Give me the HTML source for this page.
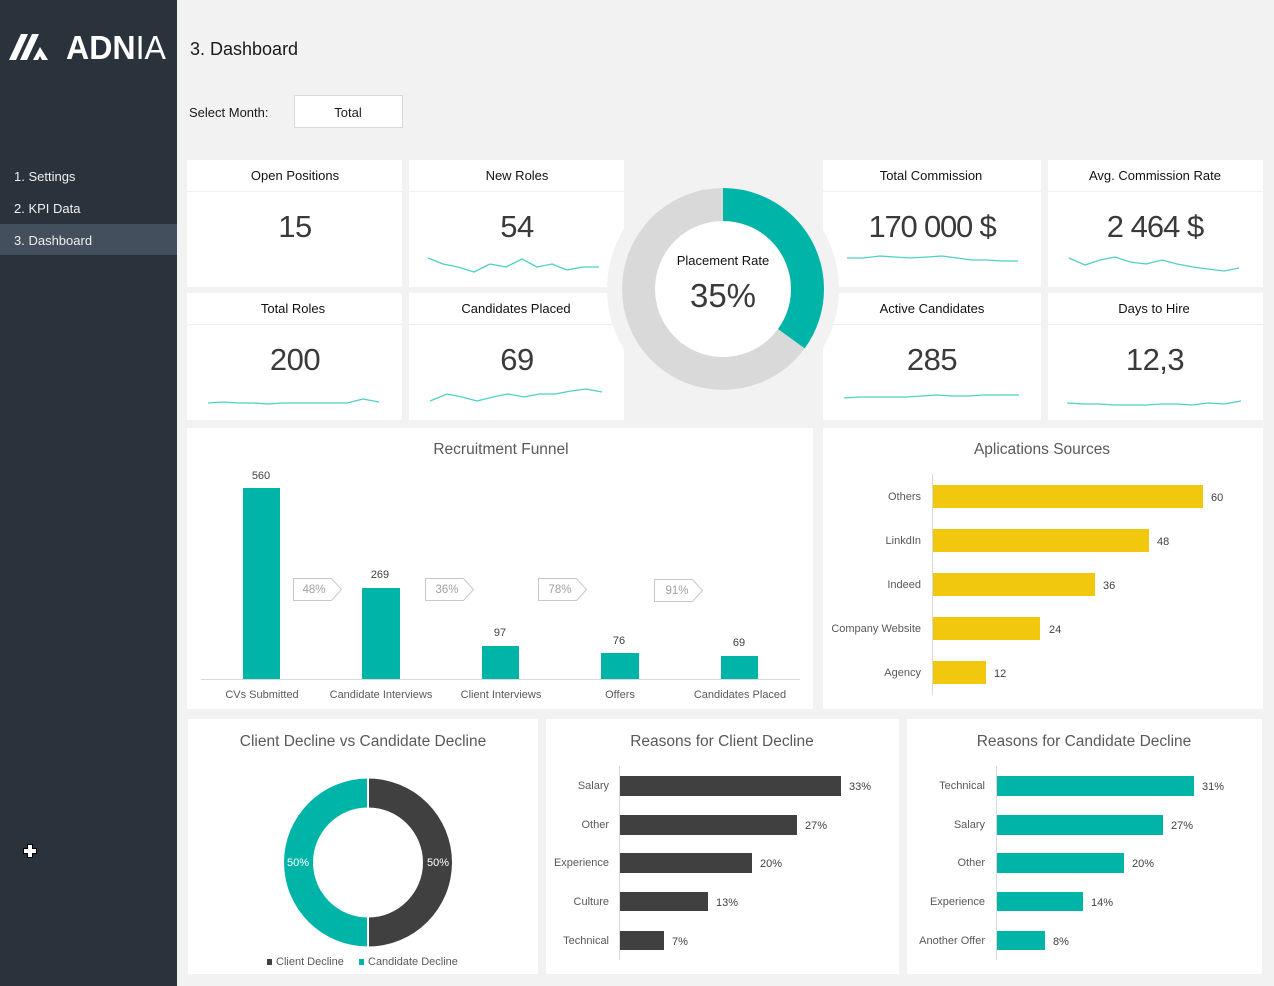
<!DOCTYPE html>
<html><head><meta charset="utf-8"><style>
html,body{margin:0;padding:0;background:#f2f2f2;}
svg{display:block;font-family:"Liberation Sans",Arial,sans-serif;}
</style></head><body>
<svg width="1274" height="986" viewBox="0 0 1274 986" xmlns="http://www.w3.org/2000/svg">
<rect x="0" y="0" width="1274" height="986" fill="#f2f2f2"/>
<!-- Sidebar -->
<rect x="0" y="0" width="177" height="986" fill="#2a333c"/>
<rect x="0" y="224" width="177" height="31" fill="#434f5c"/>
<g fill="#ffffff">
<polygon points="9,60 21,34 28,34 16,60"/>
<polygon points="20,60 32,34 39,34 27,60"/>
<polygon points="33,60 40,47 48,60 42,60 40,56 38,60"/>
</g>
<text x="66" y="59" font-size="33" fill="#ffffff" textLength="100" lengthAdjust="spacingAndGlyphs"><tspan font-weight="bold">ADN</tspan><tspan>IA</tspan></text>
<g font-size="13" fill="#f0f0f0">
<text x="14" y="181">1. Settings</text>
<text x="14" y="213">2. KPI Data</text>
<text x="14" y="245">3. Dashboard</text>
</g>
<g>
<path d="M27,844 h6 v4 h4 v6 h-4 v4 h-6 v-4 h-4 v-6 h4 z" fill="#000"/>
<path d="M28,845 h4 v4 h4 v4 h-4 v4 h-4 v-4 h-4 v-4 h4 z" fill="#fff"/>
</g>

<!-- Header -->
<text x="190" y="55" font-size="18" fill="#1a1a1a">3. Dashboard</text>
<text x="189" y="117" font-size="13" fill="#1a1a1a">Select Month:</text>
<rect x="294.5" y="95.5" width="108" height="32" fill="#ffffff" stroke="#d9d9d9"/>
<text x="348" y="117" font-size="13" fill="#1a1a1a" text-anchor="middle">Total</text>

<!-- KPI cards -->
<g fill="#ffffff">
<rect x="187" y="160" width="215" height="127"/>
<rect x="409" y="160" width="215" height="127"/>
<rect x="823" y="160" width="218" height="127"/>
<rect x="1048" y="160" width="215" height="127"/>
<rect x="187" y="293" width="215" height="127"/>
<rect x="409" y="293" width="215" height="127"/>
<rect x="823" y="293" width="218" height="127"/>
<rect x="1048" y="293" width="215" height="127"/>
</g>
<g stroke="#efefef" stroke-width="1">
<line x1="187" y1="191.5" x2="402" y2="191.5"/>
<line x1="409" y1="191.5" x2="624" y2="191.5"/>
<line x1="823" y1="191.5" x2="1041" y2="191.5"/>
<line x1="1048" y1="191.5" x2="1263" y2="191.5"/>
<line x1="187" y1="324.5" x2="402" y2="324.5"/>
<line x1="409" y1="324.5" x2="624" y2="324.5"/>
<line x1="823" y1="324.5" x2="1041" y2="324.5"/>
<line x1="1048" y1="324.5" x2="1263" y2="324.5"/>
</g>
<g font-size="13" fill="#111" text-anchor="middle">
<text x="295" y="180">Open Positions</text>
<text x="517" y="180">New Roles</text>
<text x="931" y="180">Total Commission</text>
<text x="1155" y="180">Avg. Commission Rate</text>
<text x="293" y="313">Total Roles</text>
<text x="516" y="313">Candidates Placed</text>
<text x="932" y="313">Active Candidates</text>
<text x="1154" y="313">Days to Hire</text>
</g>
<g font-size="31" fill="#3a3a3a" text-anchor="middle" letter-spacing="-0.5">
<text x="295" y="237">15</text>
<text x="517" y="237">54</text>
<text x="932" y="237" letter-spacing="-1.2">170 000 $</text>
<text x="1155" y="237" letter-spacing="-1">2 464 $</text>
<text x="295" y="370">200</text>
<text x="517" y="370">69</text>
<text x="932" y="370">285</text>
<text x="1155" y="370">12,3</text>
</g>
<g fill="none" stroke="#4fd1c7" stroke-width="1.3" stroke-linejoin="round">
<polyline points="428,258 443,264 458,267 474,272 490,264 506,267 522,259 537,267 552,264 567,270 583,267 599,267"/>
<polyline points="430,401 447,394 462,397 477,401 493,397 508,394 524,397 539,394 555,394 571,391 586,389 602,392"/>
<polyline points="208,403 223,402 238,403 253,403 268,404 283,403 298,403 313,403 328,403 347,403 363,399 379,402"/>
<polyline points="847,258 863,258 880,256 895,257 910,258 927,257 942,256 957,258 972,260 987,260 1002,261 1018,261"/>
<polyline points="1069,258 1085,265 1100,260 1115,257 1130,262 1146,264 1162,260 1177,264 1193,267 1208,269 1224,271 1239,268"/>
<polyline points="844,398 860,397 875,397 891,397 906,397 922,396 937,395 953,396 968,396 983,395 1000,395 1019,395"/>
<polyline points="1067,403 1083,404 1100,404 1115,405 1130,405 1146,405 1162,404 1177,404 1193,405 1208,403 1224,404 1241,401"/>
</g>

<!-- Placement donut -->
<circle cx="723" cy="289" r="116" fill="#f2f2f2"/>
<circle cx="723" cy="289" r="101" fill="#ffffff"/>
<circle cx="723" cy="289" r="84.5" fill="none" stroke="#d9d9d9" stroke-width="33"/>
<circle cx="723" cy="289" r="84.5" fill="none" stroke="#00b5a8" stroke-width="33" stroke-dasharray="185.8 600" transform="rotate(-90 723 289)"/>
<text x="723" y="265" font-size="13" fill="#111" text-anchor="middle">Placement Rate</text>
<text x="723" y="307" font-size="33" fill="#3a3a3a" text-anchor="middle">35%</text>

<!-- Recruitment Funnel -->
<rect x="187" y="428" width="626" height="281" fill="#ffffff"/>
<text x="501" y="454" font-size="15.5" fill="#595959" text-anchor="middle">Recruitment Funnel</text>
<g fill="#00b5a8">
<rect x="243" y="488" width="37" height="191"/>
<rect x="362" y="588" width="38" height="91"/>
<rect x="482" y="646" width="37" height="33"/>
<rect x="601" y="653" width="38" height="26"/>
<rect x="721" y="656" width="37" height="23"/>
</g>
<line x1="201" y1="679.5" x2="800" y2="679.5" stroke="#d9d9d9"/>
<g font-size="11" fill="#404040" text-anchor="middle">
<text x="261" y="479">560</text>
<text x="380" y="578">269</text>
<text x="500" y="636">97</text>
<text x="619" y="644">76</text>
<text x="739" y="646">69</text>
</g>
<g font-size="11" fill="#595959" text-anchor="middle">
<text x="262" y="698">CVs Submitted</text>
<text x="381" y="698">Candidate Interviews</text>
<text x="501" y="698">Client Interviews</text>
<text x="620" y="698">Offers</text>
<text x="740" y="698">Candidates Placed</text>
</g>
<g fill="#ffffff" stroke="#c8c8c8">
<polygon points="293.5,578.5 331.5,578.5 341.5,589.5 331.5,600.5 293.5,600.5"/>
<polygon points="425.5,578.5 463.5,578.5 473.5,589.5 463.5,600.5 425.5,600.5"/>
<polygon points="538.5,578.5 576.5,578.5 586.5,589.5 576.5,600.5 538.5,600.5"/>
<polygon points="654.5,579.5 692.5,579.5 702.5,590.5 692.5,601.5 654.5,601.5"/>
</g>
<g font-size="11.5" fill="#a0a0a0" text-anchor="middle">
<text x="314" y="593">48%</text>
<text x="447" y="593">36%</text>
<text x="560" y="593">78%</text>
<text x="677" y="594">91%</text>
</g>

<!-- Applications Sources -->
<rect x="823" y="428" width="440" height="281" fill="#ffffff"/>
<text x="1042" y="454" font-size="15.5" fill="#595959" text-anchor="middle">Aplications Sources</text>
<line x1="932.5" y1="474" x2="932.5" y2="695" stroke="#d9d9d9"/>
<g fill="#f2c80f">
<rect x="933" y="485" width="270" height="23"/>
<rect x="933" y="529" width="216" height="23"/>
<rect x="933" y="573" width="162" height="23"/>
<rect x="933" y="617" width="107" height="23"/>
<rect x="933" y="661" width="53" height="23"/>
</g>
<g font-size="11" fill="#595959" text-anchor="end">
<text x="921" y="500">Others</text>
<text x="921" y="544">LinkdIn</text>
<text x="921" y="588">Indeed</text>
<text x="921" y="632">Company Website</text>
<text x="921" y="676">Agency</text>
</g>
<g font-size="11" fill="#404040">
<text x="1211" y="501">60</text>
<text x="1157" y="545">48</text>
<text x="1103" y="589">36</text>
<text x="1049" y="633">24</text>
<text x="994" y="677">12</text>
</g>

<!-- Client vs Candidate Decline -->
<rect x="188" y="719" width="350" height="255" fill="#ffffff"/>
<text x="363" y="746" font-size="15.5" fill="#595959" text-anchor="middle">Client Decline  vs Candidate Decline</text>
<path d="M368,778.5 A84,84 0 0 1 368,946.5 L368,917.5 A55,55 0 0 0 368,807.5 Z" fill="#404040"/>
<path d="M368,778.5 A84,84 0 0 0 368,946.5 L368,917.5 A55,55 0 0 1 368,807.5 Z" fill="#00b5a8"/>
<line x1="368" y1="777" x2="368" y2="808" stroke="#ffffff" stroke-width="2"/>
<line x1="368" y1="917" x2="368" y2="948" stroke="#ffffff" stroke-width="2"/>
<g font-size="11" fill="#ffffff">
<text x="287" y="866">50%</text>
<text x="427" y="866">50%</text>
</g>
<rect x="267" y="959" width="5" height="6" fill="#404040"/>
<text x="276" y="965" font-size="11" fill="#595959">Client Decline</text>
<rect x="359" y="959" width="5" height="6" fill="#00b5a8"/>
<text x="368" y="965" font-size="11" fill="#595959">Candidate Decline</text>

<!-- Reasons for Client Decline -->
<rect x="546" y="719" width="353" height="255" fill="#ffffff"/>
<text x="722" y="746" font-size="15.5" fill="#595959" text-anchor="middle">Reasons for Client Decline</text>
<line x1="619.5" y1="766" x2="619.5" y2="960" stroke="#d9d9d9"/>
<g fill="#404040">
<rect x="620" y="776" width="221" height="20"/>
<rect x="620" y="815" width="177" height="20"/>
<rect x="620" y="853" width="132" height="20"/>
<rect x="620" y="892" width="88" height="19"/>
<rect x="620" y="931" width="44" height="19"/>
</g>
<g font-size="11" fill="#595959" text-anchor="end">
<text x="609" y="789">Salary</text>
<text x="609" y="828">Other</text>
<text x="609" y="866">Experience</text>
<text x="609" y="905">Culture</text>
<text x="609" y="944">Technical</text>
</g>
<g font-size="11" fill="#404040">
<text x="849" y="790">33%</text>
<text x="805" y="829">27%</text>
<text x="760" y="867">20%</text>
<text x="716" y="906">13%</text>
<text x="672" y="945">7%</text>
</g>

<!-- Reasons for Candidate Decline -->
<rect x="907" y="719" width="355" height="255" fill="#ffffff"/>
<text x="1084" y="746" font-size="15.5" fill="#595959" text-anchor="middle">Reasons for Candidate Decline</text>
<line x1="996.5" y1="766" x2="996.5" y2="960" stroke="#d9d9d9"/>
<g fill="#00b5a8">
<rect x="997" y="776" width="197" height="20"/>
<rect x="997" y="815" width="166" height="20"/>
<rect x="997" y="853" width="127" height="20"/>
<rect x="997" y="892" width="86" height="19"/>
<rect x="997" y="931" width="48" height="19"/>
</g>
<g font-size="11" fill="#595959" text-anchor="end">
<text x="985" y="789">Technical</text>
<text x="985" y="828">Salary</text>
<text x="985" y="866">Other</text>
<text x="985" y="905">Experience</text>
<text x="985" y="944">Another Offer</text>
</g>
<g font-size="11" fill="#404040">
<text x="1202" y="790">31%</text>
<text x="1171" y="829">27%</text>
<text x="1132" y="867">20%</text>
<text x="1091" y="906">14%</text>
<text x="1053" y="945">8%</text>
</g>
</svg>
</body></html>
